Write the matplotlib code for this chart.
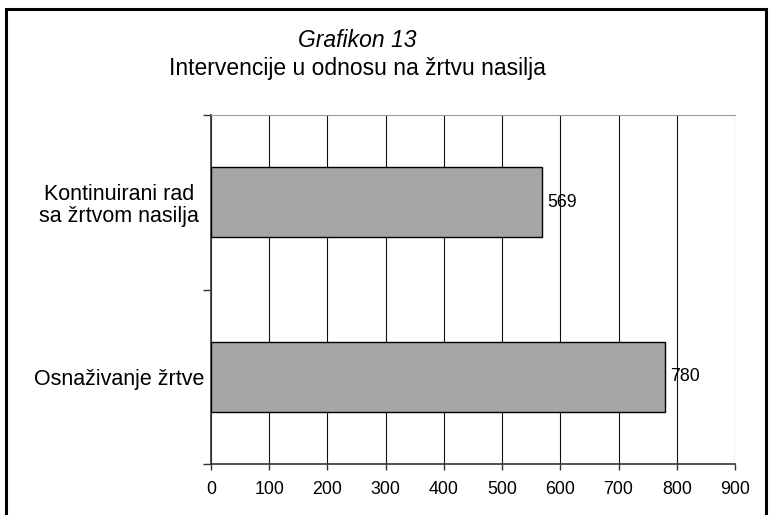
import matplotlib
matplotlib.use("Agg")
import matplotlib.pyplot as plt
from matplotlib.patches import Rectangle
from matplotlib.ticker import FixedLocator

categories = ["Osnaživanje žrtve", "Kontinuirani rad\nsa žrtvom nasilja"]
values = [780, 569]
xticks = [0, 100, 200, 300, 400, 500, 600, 700, 800, 900]
title1 = "Grafikon 13"
title2 = "Intervencije u odnosu na žrtvu nasilja"

plt.rcParams['font.family'] = ['Liberation Sans', 'DejaVu Sans']

fig = plt.figure(figsize=(7.7, 5.15), dpi=100)
ax = fig.add_axes([211/770, 1-464/515, (735-211)/770, (464-115)/515])

ypos = list(range(len(categories)))
ax.barh(ypos, values, height=0.4, color="#a6a6a6", edgecolor="black", linewidth=1, zorder=3)
for y, v in zip(ypos, values):
    ax.text(v + 8, y, str(v), va="center", ha="left", fontsize=12.8, zorder=4)

ax.set_xlim(0, 900)
ax.set_ylim(-0.5, len(categories) - 0.5)
ax.set_xticks(xticks)
ax.set_xticklabels([str(t) for t in xticks], fontsize=12.8)
ax.xaxis.grid(True, color="#111111", linewidth=0.8, zorder=0)
ax.set_axisbelow(True)

ax.yaxis.set_major_locator(FixedLocator([-0.5, 0.5, 1.5]))
ax.yaxis.set_minor_locator(FixedLocator(ypos))
ax.set_yticklabels([], minor=False)
ax.set_yticklabels(categories, minor=True, fontsize=15.5, ha="center", linespacing=1.1)
ax.tick_params(axis="y", which="minor", length=0, pad=66)
ax.tick_params(axis="y", which="major", length=6, width=1, color="#333333")
ax.tick_params(axis="x", which="major", length=4, width=1, color="#333333", pad=8)

for s in ["left", "bottom"]:
    ax.spines[s].set_color("#333333")
    ax.spines[s].set_linewidth(1.2)
ax.spines["top"].set_color("#999999")
ax.spines["right"].set_visible(False)

fig.text(357/770, 1-47/515, title1, ha="center", va="baseline", fontsize=16.5, style="italic")
fig.text(357/770, 1-75/515, title2, ha="center", va="baseline", fontsize=16.5)

fig.patches.append(Rectangle((6/770, -0.05), (766-6)/770, 1.05 - 9/515, transform=fig.transFigure,
                             fill=False, edgecolor="black", linewidth=2.2, clip_on=False))

fig.savefig("out.png", dpi=100)
